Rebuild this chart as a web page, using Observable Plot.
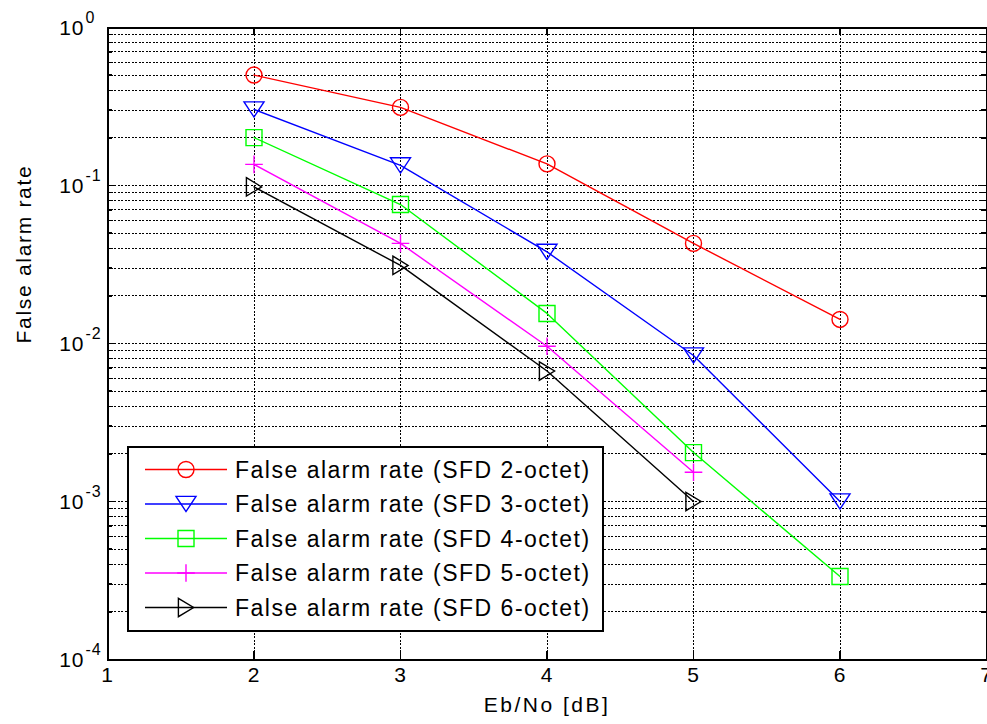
<!DOCTYPE html>
<html><head><meta charset="utf-8">
<script src="https://cdn.jsdelivr.net/npm/d3@7"></script>
<script src="https://cdn.jsdelivr.net/npm/@observablehq/plot@0.6"></script>
<style>
body{margin:0;background:#fff;}
#chart svg text{letter-spacing:1px;}
#chart svg text.legend-label{letter-spacing:1.5px;}
</style></head><body><div id="chart"></div>
<script>
// ---- data ----
const ebno = [2, 3, 4, 5, 6];
const seriesNames = [
  "False alarm rate (SFD 2-octet)",
  "False alarm rate (SFD 3-octet)",
  "False alarm rate (SFD 4-octet)",
  "False alarm rate (SFD 5-octet)",
  "False alarm rate (SFD 6-octet)"
];
const sfd2 = [0.5, 0.312, 0.137, 0.043, 0.0142];
const sfd3 = [0.303, 0.134, 0.038, 0.0084, 0.001];
const sfd4 = [0.201, 0.0758, 0.0155, 0.00204, 0.000335];
const sfd5 = [0.136, 0.043, 0.0096, 0.00153];
const sfd6 = [0.098, 0.0312, 0.0067, 0.001];
const seriesValues = [sfd2, sfd3, sfd4, sfd5, sfd6];
const seriesColors = ["#ff0000", "#0000ff", "#00ff00", "#ff00ff", "#000000"];
const seriesSymbols = ["circle", "triangleDown", "square", "plus", "triangleRight"];
const xTicks = [1, 2, 3, 4, 5, 6, 7];
const xTickLabels = ["1", "2", "3", "4", "5", "6", "7"];
const yDecades = [1e-4, 1e-3, 1e-2, 1e-1, 1];
const yDecadeExponents = ["-4", "-3", "-2", "-1", "0"];
const yMinorMultipliers = [2, 3, 4, 5, 6, 7, 8, 9];
const xTitle = "Eb/No [dB]";
const yTitle = "False alarm rate";

// ---- derived tables ----
const rows = [];
seriesValues.forEach((vals, i) => vals.forEach((v, j) => rows.push({series: seriesNames[i], idx: i, x: ebno[j], y: v})));
const yMinor = [];
yDecades.slice(0, -1).forEach(d => yMinorMultipliers.forEach(m => yMinor.push(+(d * m).toPrecision(3))));
const yInnerMajor = yDecades.slice(1, -1);
const yGrid = yMinor.concat(yInnerMajor);
const xInner = xTicks.slice(1, -1);
const yLabelRows = yDecades.map((d, i) => ({y: d, exp: yDecadeExponents[i]}));
const xLabelRows = xTicks.map((d, i) => ({x: d, label: xTickLabels[i]}));

// ---- custom MATLAB-like marker symbols ----
const rOf = size => Math.sqrt(size / Math.PI);
const symbolDefs = {
  circle: {draw(c, s) { const r = rOf(s); c.moveTo(r, 0); c.arc(0, 0, r, 0, 2 * Math.PI); }},
  triangleDown: {draw(c, s) { const r = rOf(s), w = r * 1.25, h = r * 0.95; c.moveTo(-w, -h); c.lineTo(w, -h); c.lineTo(0, h); c.closePath(); }},
  square: {draw(c, s) { const r = rOf(s); c.rect(-r, -r, 2 * r, 2 * r); }},
  plus: {draw(c, s) { const r = rOf(s) * 1.1; c.moveTo(-r, 0); c.lineTo(r, 0); c.moveTo(0, -r); c.lineTo(0, r); }},
  triangleRight: {draw(c, s) { const r = rOf(s), w = r * 1.15, h = r * 0.95; c.moveTo(-h, -w); c.lineTo(h, 0); c.lineTo(-h, w); c.closePath(); }}
};

const W = 987, H = 724, mL = 107, mR = 1, mT = 27, mB = 65;
const frameW = W - mL - mR, frameH = H - mT - mB;
const grid = {stroke: "#000", strokeWidth: 1, strokeDasharray: "2,1.5", strokeOpacity: 1, shapeRendering: "crispEdges"};
const tick = {stroke: "#000", strokeWidth: 1.3, shapeRendering: "crispEdges"};

const marks = [
  Plot.ruleY(yGrid, {y: d => d, ...grid}),
  Plot.ruleX(xInner, {x: d => d, ...grid}),
  // inward ticks
  Plot.tickY(yInnerMajor, {y: d => d, insetRight: frameW - 8, ...tick}),
  Plot.tickY(yInnerMajor, {y: d => d, insetLeft: frameW - 8, ...tick}),
  Plot.tickY(yMinor, {y: d => d, insetRight: frameW - 5, ...tick}),
  Plot.tickY(yMinor, {y: d => d, insetLeft: frameW - 5, ...tick}),
  Plot.tickX(xInner, {x: d => d, insetTop: frameH - 8, ...tick}),
  Plot.tickX(xInner, {x: d => d, insetBottom: frameH - 8, ...tick}),
  Plot.frame({stroke: "#000", strokeWidth: 2, shapeRendering: "crispEdges"}),
];
seriesNames.forEach((name, i) => {
  const data = rows.filter(r => r.idx === i);
  marks.push(Plot.line(data, {x: "x", y: "y", stroke: seriesColors[i], strokeWidth: 1.4}));
  marks.push(Plot.dot(data, {x: "x", y: "y", r: 8, symbol: symbolDefs[seriesSymbols[i]], stroke: seriesColors[i], fill: "none", strokeWidth: 1.4}));
});
marks.push(
  Plot.text(yLabelRows, {y: "y", text: () => "10", frameAnchor: "left", textAnchor: "end", dx: -23, dy: 1, fontSize: 21, fill: "#000"}),
  Plot.text(yLabelRows, {y: "y", text: "exp", frameAnchor: "left", textAnchor: "start", dx: -22, dy: -10, fontSize: 16, fill: "#000"}),
  Plot.text(xLabelRows, {x: "x", text: "label", frameAnchor: "bottom", dy: 22, fontSize: 21, fill: "#000"}),
  Plot.text([xTitle], {text: d => d, frameAnchor: "bottom", dy: 52, fontSize: 21, fill: "#000", className: "xtitle"}),
  Plot.text([yTitle], {text: d => d, frameAnchor: "left", dx: -83, rotate: -90, fontSize: 21, fill: "#000", className: "ytitle"})
);

const chart = Plot.plot({
  width: W, height: H,
  marginLeft: mL, marginRight: mR, marginTop: mT, marginBottom: mB,
  x: {domain: [xTicks[0], xTicks[xTicks.length - 1]], axis: null},
  y: {type: "log", domain: [yDecades[0], yDecades[yDecades.length - 1]], axis: null},
  style: {fontFamily: "'Liberation Sans', Arial, sans-serif", background: "#fff", overflow: "visible"},
  marks
});
document.getElementById("chart").appendChild(chart);

// widen axis titles a little (the reference font is set wider)
d3.select(chart).selectAll("text").filter(function() { return this.textContent === xTitle; }).style("letter-spacing", "2.5px");
d3.select(chart).selectAll("text").filter(function() { return this.textContent === yTitle; }).style("letter-spacing", "1.7px");

// ---- legend (MATLAB-style box, inside the axes) ----
const svg = d3.select(chart);
const lg = svg.append("g").attr("font-family", "'Liberation Sans', Arial, sans-serif").attr("text-anchor", "start");
const lx = 128, ly = 447, lw = 475, lh = 184, rowH = 34.5, row0 = 469.5;
lg.append("rect").attr("x", lx).attr("y", ly).attr("width", lw).attr("height", lh)
  .attr("fill", "#fff").attr("stroke", "#000").attr("stroke-width", 2).attr("shape-rendering", "crispEdges");
seriesNames.forEach((name, i) => {
  const cy = row0 + i * rowH;
  lg.append("line").attr("x1", 145).attr("x2", 227).attr("y1", cy).attr("y2", cy)
    .attr("stroke", seriesColors[i]).attr("stroke-width", 1.4);
  lg.append("path").attr("d", d3.symbol(symbolDefs[seriesSymbols[i]], Math.PI * 64)())
    .attr("transform", `translate(186,${cy})`).attr("fill", "none")
    .attr("stroke", seriesColors[i]).attr("stroke-width", 1.4);
  lg.append("text").attr("class", "legend-label").attr("x", 235).attr("y", cy).attr("dy", "0.35em")
    .attr("text-anchor", "start").attr("font-size", 23).attr("fill", "#000").text(name);
});
</script></body></html>
